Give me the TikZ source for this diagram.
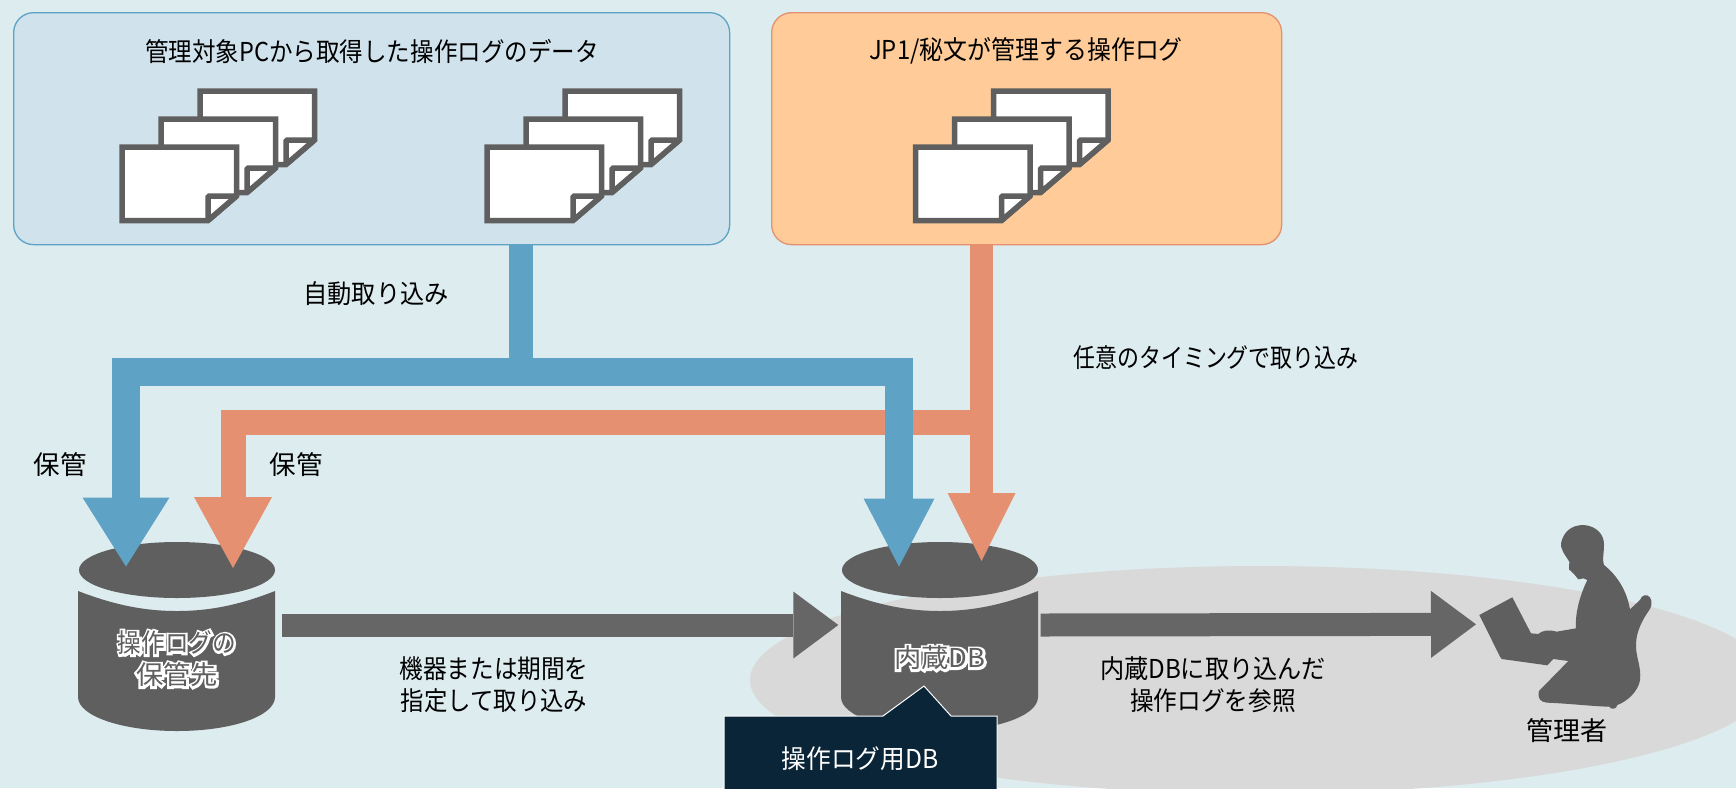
\documentclass[tikz,border=0pt]{standalone}
\usepackage{fontspec}
\usepackage{graphicx}
\setmainfont{Noto Sans CJK JP}
\usetikzlibrary{arrows.meta}
\definecolor{bgc}{HTML}{DDECEF}
\definecolor{boxblue}{HTML}{D0E2EC}
\definecolor{pipeblue}{HTML}{5EA3C5}
\definecolor{boxorange}{HTML}{FFCC99}
\definecolor{pipeorange}{HTML}{E59070}
\definecolor{dgray}{HTML}{5F5F5F}
\definecolor{agray}{HTML}{666666}
\definecolor{navy}{HTML}{0A2537}
\newcommand{\cx}[2]{\scalebox{#1}[1]{#2}}
\newcommand{\halo}[1]{\rlap{\color{white}\special{pdf:code 2 Tr 4.5 w}#1\special{pdf:code 0 Tr 1 w}}{\color{dgray}#1}}
\newcommand{\docsheet}[2]{%
  \begin{scope}[shift={(#1,#2)}]
    \filldraw[docline] (0,0) -- (114.5,0) -- (114.5,49) -- (86,73.5) -- (0,73.5) -- cycle;
    \draw[docline,line join=bevel] (86,73.5) -- (86,49) -- (114.5,49) -- cycle;
  \end{scope}}
\newcommand{\docstack}[2]{%
  \docsheet{#1+78}{#2-56}\docsheet{#1+39}{#2-28}\docsheet{#1}{#2}}
\tikzset{
  panel/.style={draw,line width=1.3pt,rounded corners=20pt,inner sep=0pt,anchor=north west},
  docline/.style={draw=dgray,fill=white,line width=5.5pt,miter limit=3},
  cylfill/.style={fill=dgray,draw=none},
  label/.style={font=\fontsize{26}{32}\selectfont,text=black,align=center,inner sep=0pt},
  bluepipe/.style={draw=pipeblue,line width=#1},
  orangepipe/.style={draw=pipeorange,line width=#1},
  grayarrow/.style={draw=agray,line width=23pt,-{Triangle[length=45pt,width=67pt,fill=agray,line width=0pt]}}
}
\newcommand{\cylshape}[1]{%
  \begin{scope}[shift={(#1,0)}]
    \fill[cylfill] (0,570) ellipse [x radius=98,y radius=28];
    \fill[cylfill] (-99,591) .. controls (-65,604) and (-35,611) .. (0,611)
      .. controls (35,611) and (65,604) .. (98,591) -- (98,697)
      .. controls (98,716) and (55,731) .. (0,731)
      .. controls (-55,731) and (-99,716) .. (-99,697) -- cycle;
  \end{scope}}
\begin{document}
\begin{tikzpicture}[x=1pt,y=-1pt]
\useasboundingbox (0,0) rectangle (1736,788);
\fill[bgc] (0,0) rectangle (1736,788);
\begin{scope}
  \clip (0,0) rectangle (1736,788);
  \fill[black!15] (1260,680) ellipse [x radius=510,y radius=114];
\end{scope}
\node[panel,fill=boxblue,draw=pipeblue,minimum width=716pt,minimum height=232pt] (box1) at (13,12) {};
\node[panel,fill=boxorange,draw=pipeorange,minimum width=510pt,minimum height=232pt] (box2) at (771,12) {};
\node[label] (t1) at (372,51) {\cx{.905}{管理対象PCから取得した操作ログのデータ}};
\node[label] (t2) at (1026,51) {\cx{.92}{JP1/秘文が管理する操作ログ}};
\docstack{122}{147}
\docstack{487}{147}
\docstack{915.5}{147}
\cylshape{177}
\cylshape{940}
\node[inner sep=0pt,minimum width=197pt,minimum height=189pt] (cyl1) at (177,636.5) {};
\node[inner sep=0pt,minimum width=197pt,minimum height=189pt] (cyl2) at (940,636.5) {};
\coordinate (blueJ) at (521,372);
\coordinate (orangeJ) at (981.5,422);
\coordinate (bluetipL) at (126,566.5);
\coordinate (bluetipR) at (899,566.5);
\coordinate (orangetipL) at (233,568);
\coordinate (orangetipR) at (981.5,561);
% person
\begin{scope}[shift={(1450,510)},x=0.3333pt,y=-0.3333pt]
\coordinate (admin) at (78,343);
\fill[dgray] (333,100) .. controls (340,65) and (365,45) .. (400,45)
 .. controls (440,47) and (463,75) .. (462,105)
 .. controls (462,130) and (456,150) .. (462,165)
 .. controls (500,195) and (530,240) .. (540,298)
 -- (570,270) .. controls (575,255) and (590,250) .. (600,262)
 .. controls (610,275) and (602,295) .. (598,300)
 .. controls (580,325) and (560,360) .. (558,400)
 .. controls (556,440) and (575,470) .. (570,510)
 .. controls (565,545) and (530,575) .. (502,585)
 .. controls (500,598) and (482,600) .. (478,590)
 .. controls (440,590) and (350,580) .. (290,578)
 .. controls (270,575) and (262,565) .. (267,543)
 -- (355,453) -- (310,447) -- (292,466) -- (155,447) -- (150,440)
 -- (88,315) -- (187,262) -- (243,370) -- (265,372)
 .. controls (275,362) and (295,358) .. (320,365)
 -- (378,355) .. controls (375,320) and (385,265) .. (412,210)
 -- (400,205) -- (385,208) -- (372,192) -- (357,178) -- (358,155)
 .. controls (345,135) and (330,115) .. (333,100) -- cycle;
\end{scope}
% connectors
\draw[grayarrow] ([shift={(6,-11.5)}]cyl1.east) -- ([shift={(-3,-11.5)}]cyl2.west);
\draw[grayarrow] ([shift={(2,-11.5)}]cyl2.east) -- (admin);
\draw[orangepipe=25pt,-{Triangle[length=71pt,width=78pt,fill=pipeorange,line width=0pt]},line join=miter] (orangeJ) -| (orangetipL);
\draw[orangepipe=23pt,-{Triangle[length=68pt,width=68pt,fill=pipeorange,line width=0pt]}] (box2.south -| orangeJ) -- (orangetipR);
\draw[bluepipe=24pt] (box1.south -| blueJ) -- (blueJ);
\draw[bluepipe=28.5pt,-{Triangle[length=69pt,width=87pt,fill=pipeblue,line width=0pt]},line join=miter] (blueJ) -| (bluetipL);
\draw[bluepipe=28.5pt,-{Triangle[length=68pt,width=71pt,fill=pipeblue,line width=0pt]},line join=miter] (blueJ) -| (bluetipR);
% callout
\fill[navy,draw=white,line width=1pt] (724,716) -- (883,716) -- (924,686) -- (951,716) -- (997,716) -- (997,800) -- (724,800) -- cycle;
\node[label,text=white] (dbtag) at (860,759) {\cx{.95}{操作ログ用DB}};
\node[label] (l1) at (376,294) {\cx{.933}{自動取り込み}};
\node[label] (l2) at (1216,358) {\cx{.843}{任意のタイミングで取り込み}};
\node[label] (l3) at (60,465) {\cx{1.02}{保管}};
\node[label] (l4) at (296,465) {\cx{1.02}{保管}};
\node[label] (l5) at (494,685) {\cx{.91}{機器または期間を}\\\cx{.9}{指定して取り込み}};
\node[label] (l6) at (1213,685) {\cx{.93}{内蔵DBに取り込んだ}\\\cx{.91}{操作ログを参照}};
\node[label] (l7) at (1567,731) {\cx{1.04}{管理者}};
\node[label] (c1) at (177,659) {\cx{.91}{\halo{操作ログの}}\\\cx{1.05}{\halo{保管先}}};
\node[label] (c2) at (940,658) {\cx{1.05}{\halo{内蔵DB}}};
\end{tikzpicture}
\end{document}
